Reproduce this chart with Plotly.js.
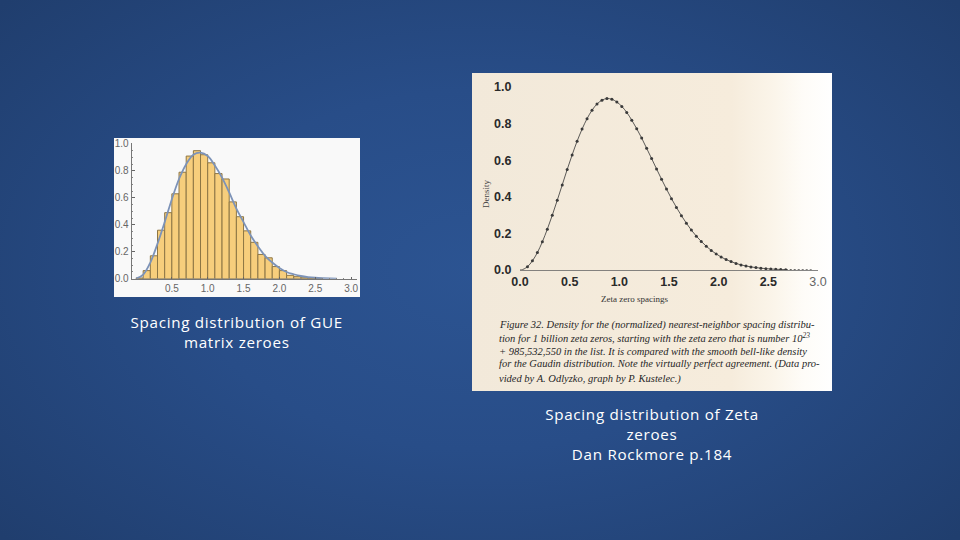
<!DOCTYPE html>
<html><head><meta charset="utf-8">
<script src="https://cdn.plot.ly/plotly-3.0.1.min.js"></script>
<style>
html,body{margin:0;padding:0;width:960px;height:540px;overflow:hidden;
background:radial-gradient(ellipse 640px 400px at 480px 270px,#2c5492 0%,#284d88 45%,#203e6e 100%);}
#panelL{position:absolute;left:114px;top:138px;width:246px;height:159px;background:#f9f9f9;}
#panelR{position:absolute;left:472px;top:73px;width:360px;height:318px;
background:linear-gradient(90deg,#f2e9da 0%,#f6ecdc 72%,#fbf5ea 84%,#fefcf8 92%,#ffffff 100%);}
#chart{position:absolute;left:0;top:0;width:960px;height:540px;}
.annotation[data-index="0"] text,.annotation[data-index="1"] text{letter-spacing:0.7px;}
</style></head><body>
<div id="panelL"></div><div id="panelR"></div><div id="chart"></div>
<script>
const binCenters=[0.05,0.15,0.25,0.35,0.45,0.55,0.65,0.75,0.85,0.95,1.05,1.15,1.25,1.35,1.45,1.55,1.65,1.75,1.85,1.95,2.05,2.15,2.25,2.35,2.45,2.55];
const binHeights=[0.005,0.06,0.17,0.36,0.49,0.63,0.79,0.91,0.95,0.92,0.86,0.78,0.74,0.57,0.46,0.355,0.27,0.18,0.155,0.09,0.06,0.025,0.015,0.007,0.004,0.002];
const gueX=[0,0.1,0.2,0.3,0.4,0.5,0.6,0.7,0.8,0.9,1.0,1.1,1.2,1.3,1.4,1.5,1.6,1.7,1.8,1.9,2.0,2.1,2.2,2.3,2.4,2.5,2.6,2.7,2.8];
const gueY=[0,0.03,0.12,0.26,0.42,0.59,0.74,0.85,0.92,0.935,0.91,0.84,0.75,0.64,0.52,0.42,0.32,0.24,0.17,0.12,0.08,0.05,0.033,0.02,0.012,0.007,0.004,0.002,0.001];
const zetaX=[0.075,0.125,0.175,0.225,0.275,0.325,0.375,0.425,0.475,0.525,0.575,0.625,0.675,0.725,0.775,0.825,0.875,0.925,0.975,1.025,1.075,1.125,1.175,1.225,1.275,1.325,1.375,1.425,1.475,1.525,1.575,1.625,1.675,1.725,1.775,1.825,1.875,1.925,1.975,2.025,2.075,2.125,2.175,2.225,2.275,2.325,2.375,2.425,2.475,2.525,2.575,2.625,2.675];
const zetaY=[0.018,0.05,0.095,0.154,0.223,0.299,0.381,0.465,0.549,0.629,0.704,0.77,0.827,0.873,0.907,0.928,0.937,0.933,0.918,0.894,0.861,0.819,0.772,0.721,0.665,0.609,0.552,0.496,0.442,0.39,0.342,0.297,0.256,0.218,0.185,0.156,0.13,0.107,0.088,0.071,0.057,0.046,0.036,0.028,0.022,0.017,0.013,0.01,0.0075,0.0055,0.004,0.003,0.002];
const curveX=[0,0.025].concat(zetaX);
const curveY=[0,0.002].concat(zetaY);
const tailX=[2.675,2.75,2.85,2.95];
const tailY=[0.002,0.0015,0.001,0.0005];
const tickVals=[0,0.5,1,1.5,2,2.5,3];
const tickText=["0.0","0.5","1.0","1.5","2.0","2.5","3.0"];
const yTickVals=[0,0.2,0.4,0.6,0.8,1];
const yTickText=["0.0","0.2","0.4","0.6","0.8","1.0"];
const leftCaption="Spacing distribution of GUE<br>matrix zeroes";
const rightCaption="Spacing distribution of Zeta<br>zeroes<br>Dan Rockmore p.184";
const captionLines=[
"Figure 32. Density for the (normalized) nearest-neighbor spacing distribu-",
"tion for 1 billion zeta zeros, starting with the zeta zero that is number 10<sup>23</sup>",
"+ 985,532,550 in the list. It is compared with the smooth bell-like density",
"for the Gaudin distribution. Note the virtually perfect agreement. (Data pro-",
"vided by A. Odlyzko, graph by P. Kustelec.)"];
const W=960,H=540;
const px=v=>v/W, py=v=>1-v/H;
const traces=[
{type:'bar',x:binCenters,y:binHeights,width:0.1,xaxis:'x',yaxis:'y',
 marker:{color:'#f7ce7c',line:{color:'#8d7645',width:1}},hoverinfo:'skip'},
{type:'scatter',mode:'lines',x:gueX,y:gueY,xaxis:'x',yaxis:'y',
 line:{color:'#7d93b8',width:1.8,shape:'spline'},hoverinfo:'skip'},
{type:'scatter',mode:'lines',x:curveX,y:curveY,xaxis:'x2',yaxis:'y2',
 line:{color:'#333',width:0.8,shape:'spline'},hoverinfo:'skip'},
{type:'scatter',mode:'lines',x:tailX,y:tailY,xaxis:'x2',yaxis:'y2',
 line:{color:'#333',width:0.9,dash:'2px,2px'},hoverinfo:'skip'},
{type:'scatter',mode:'markers',x:zetaX,y:zetaY,xaxis:'x2',yaxis:'y2',
 marker:{color:'#3a3a3a',size:3},hoverinfo:'skip'}
];
const capFont={family:'Open Sans',size:15.2,color:'#fff'};
const ann=[
{x:px(237),y:py(331.5),xref:'paper',yref:'paper',showarrow:false,align:'center',xanchor:'center',yanchor:'middle',text:leftCaption,font:capFont},
{x:px(652),y:py(434),xref:'paper',yref:'paper',showarrow:false,align:'center',xanchor:'center',yanchor:'middle',text:rightCaption,font:capFont},
{x:px(486),y:py(178),xref:'paper',yref:'paper',showarrow:false,textangle:-90,
 text:'Density',font:{family:'Liberation Serif',size:9,color:'#444'}},
{x:px(670),y:py(299),xref:'paper',yref:'paper',showarrow:false,
 text:'Zeta zero spacings',font:{family:'Liberation Serif',size:9,color:'#333'}}
];
const lineYs=[324.5,337,351,364,379];
captionLines.forEach((t,i)=>ann.push({x:px(497),y:py(lineYs[i]),xref:'paper',yref:'paper',showarrow:false,
 xanchor:'left',yanchor:'middle',text:'<i>'+t+'</i>',font:{family:'Liberation Serif',size:10.5,color:'#262626'}}));
const leftFont={family:'Liberation Sans',size:10,color:'#666'};
const rightTick=tickText.map((t,i)=>i===6?'<span style="font-weight:normal;color:#666">'+t+'</span>':t);
const layout={width:W,height:H,margin:{l:0,r:0,t:0,b:0},paper_bgcolor:'rgba(0,0,0,0)',plot_bgcolor:'rgba(0,0,0,0)',
 showlegend:false,bargap:0,annotations:ann,
 xaxis:{domain:[px(131.7),px(356.7)],range:[-0.06,3.078],anchor:'y',tickvals:tickVals.slice(1),ticktext:tickText.slice(1),
  tickfont:leftFont,ticks:'inside',ticklen:2,tickcolor:'#666',showgrid:false,zeroline:false,showline:true,linecolor:'#777',linewidth:1,
  minor:{dtick:0.1,ticks:'inside',ticklen:1,tickcolor:'#888'}},
 yaxis:{domain:[py(278.7),py(143)],range:[0,1.007],anchor:'x',tickvals:yTickVals,ticktext:yTickText,
  tickfont:leftFont,ticks:'inside',ticklen:3,tickcolor:'#666',showgrid:false,zeroline:false,showline:true,linecolor:'#777',linewidth:1,
  minor:{dtick:0.05,ticks:'inside',ticklen:1,tickcolor:'#888'}},
 xaxis2:{domain:[px(520),px(818)],range:[0,3.0],anchor:'y2',tickvals:tickVals,ticktext:rightTick,
  tickfont:{family:'Liberation Sans',size:12.5,color:'#2a2a2a',weight:'bold'},ticks:'',showgrid:false,zeroline:false,showline:true,linecolor:'#666',linewidth:0.8},
 yaxis2:{domain:[py(270),py(85)],range:[0,1.011],anchor:'x2',tickvals:yTickVals,ticktext:yTickText,
  tickfont:{family:'Liberation Sans',size:12.5,color:'#2a2a2a',weight:'bold'},ticks:'outside',ticklen:5,tickcolor:'rgba(0,0,0,0)',showgrid:false,zeroline:false,showline:false}
};
Plotly.newPlot('chart',traces,layout,{displayModeBar:false,staticPlot:true});
</script></body></html>
